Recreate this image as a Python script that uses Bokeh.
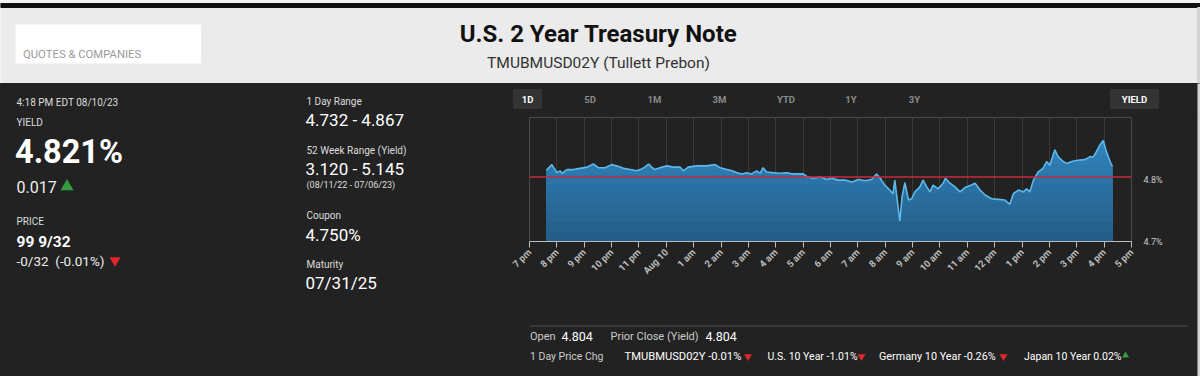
import numpy as np
from bokeh.plotting import figure
from bokeh.layouts import row, column
from bokeh.models import Range1d, FixedTicker, Span, PrintfTickFormatter
from bokeh.core.properties import value
from bokeh.embed import file_html
from bokeh.resources import INLINE

# ---------------- data ----------------
times = ["19:37", "19:49", "20:00", "20:07", "20:11", "20:22", "20:36", "20:51", "21:06", "21:20",
         "21:31", "21:46", "22:00", "22:11", "22:26", "22:41", "22:55", "23:03", "23:13", "23:21",
         "23:28", "23:35", "23:46", "00:01", "00:15", "00:30", "00:37", "00:48", "01:07", "01:29",
         "01:47", "01:58", "02:13", "02:24", "02:35", "02:46", "02:56", "03:07", "03:18", "03:26",
         "03:32", "03:40", "03:55", "04:09", "04:24", "04:38", "05:00", "05:08", "05:22", "05:37",
         "05:52", "06:03", "06:17", "06:32", "06:47", "07:01", "07:16", "07:30", "07:41", "07:49",
         "07:59", "08:10", "08:17", "08:21", "08:25", "08:32", "08:37", "08:43", "08:51", "08:58",
         "09:05", "09:16", "09:23", "09:31", "09:38", "09:45", "09:56", "10:07", "10:12", "10:22",
         "10:33", "10:44", "10:55", "11:09", "11:17", "11:28", "11:39", "11:53", "12:08", "12:22",
         "12:33", "12:41", "12:52", "13:03", "13:10", "13:17", "13:25", "13:35", "13:46", "13:54",
         "14:01", "14:12", "14:19", "14:30", "14:38", "14:49", "15:03", "15:18", "15:29", "15:36",
         "15:43", "15:51", "15:58", "16:05", "16:13", "16:18"]
yields = [4.815, 4.824, 4.811, 4.814, 4.810, 4.816, 4.816, 4.818, 4.820, 4.825,
          4.819, 4.819, 4.824, 4.822, 4.818, 4.816, 4.814, 4.816, 4.820, 4.825,
          4.820, 4.816, 4.819, 4.822, 4.820, 4.820, 4.814, 4.820, 4.822, 4.822,
          4.824, 4.819, 4.816, 4.814, 4.811, 4.809, 4.811, 4.809, 4.814, 4.810,
          4.819, 4.812, 4.811, 4.810, 4.811, 4.809, 4.809, 4.805, 4.802, 4.804,
          4.800, 4.802, 4.799, 4.799, 4.796, 4.800, 4.798, 4.800, 4.809, 4.802,
          4.791, 4.783, 4.777, 4.799, 4.775, 4.733, 4.772, 4.795, 4.767, 4.769,
          4.780, 4.788, 4.799, 4.788, 4.780, 4.791, 4.785, 4.794, 4.802, 4.794,
          4.788, 4.780, 4.787, 4.791, 4.794, 4.783, 4.775, 4.769, 4.768, 4.767,
          4.760, 4.777, 4.783, 4.780, 4.785, 4.780, 4.799, 4.812, 4.818, 4.829,
          4.823, 4.848, 4.837, 4.829, 4.826, 4.829, 4.831, 4.832, 4.837, 4.836,
          4.845, 4.856, 4.863, 4.845, 4.829, 4.821]
prior_close = 4.804
tick_labels = ["7 pm", "8 pm", "9 pm", "10 pm", "11 pm", "Aug 10", "1 am", "2 am", "3 am", "4 am",
               "5 am", "6 am", "7 am", "8 am", "9 am", "10 am", "11 am", "12 pm", "1 pm", "2 pm",
               "3 pm", "4 pm", "5 pm"]
y_ticks = [4.7, 4.8]
y_top = 4.9
buttons = ["1D", "5D", "1M", "3M", "YTD", "1Y", "3Y"]


def hours_since_7pm(t):
    h, m = map(int, t.split(":"))
    base = h - 19 if h >= 19 else h + 5
    return base + m / 60.0


xs = np.array([hours_since_7pm(t) for t in times])
ys = np.array(yields)
n_hours = len(tick_labels) - 1
hour_ticks = list(range(len(tick_labels)))

BG = "#222222"
FONT = "Roboto"


def pix_fig(w, h, x0, x1, ytop, ybot, bg):
    return figure(width=w, height=h, x_range=Range1d(x0, x1), y_range=Range1d(ybot, ytop),
                  x_axis_type=None, y_axis_type=None, toolbar_location=None,
                  output_backend="svg", min_border=0, outline_line_color=None,
                  background_fill_color=bg, border_fill_color=bg)


def txt(p, x, y, s, size, color, bold=False, align="left", font=FONT):
    p.text(x=[x], y=[y], text=[s], text_font=value(font), text_font_size=value(f"{size}px"),
           text_color=color, text_font_style="bold" if bold else "normal",
           text_align=align, text_baseline="middle")


def tri(p, x, y, up, size=10):
    p.scatter(x=[x], y=[y], marker="triangle" if up else "inverted_triangle", size=size,
              fill_color="#2e9e41" if up else "#e0262b", line_color=None)


# ---------------- header ----------------
hdr = pix_fig(1200, 83, 0, 1200, 0, 83, "#ebebeb")
hdr.quad(left=[0], right=[1200], top=[0], bottom=[3], color="#f4f4f4")
hdr.quad(left=[0], right=[1200], top=[3], bottom=[7], color="#111111")
hdr.quad(left=[1197], right=[1200], top=[7], bottom=[83], color="#d4d4d4")
hdr.quad(left=[15.5], right=[200], top=[24.5], bottom=[62.5], color="#ffffff")
txt(hdr, 22.5, 53.5, "QUOTES & COMPANIES", 11.3, "#9a9a9a")
txt(hdr, 598, 33, "U.S. 2 Year Treasury Note", 24, "#111111", bold=True, align="center")
txt(hdr, 598, 62, "TMUBMUSD02Y (Tullett Prebon)", 15.5, "#333333", align="center")

# ---------------- left panel ----------------
lf = pix_fig(505, 293, 0, 505, 83, 376, BG)
txt(lf, 16, 101.5, "4:18 PM EDT 08/10/23", 10, "#dddddd")
txt(lf, 16, 122, "YIELD", 10, "#dddddd")
txt(lf, 14.5, 151, "4.821%", 32.5, "#ffffff", bold=True)
txt(lf, 16, 186, "0.017", 16, "#eeeeee")
tri(lf, 66.5, 186, True, 13)
txt(lf, 16, 221, "PRICE", 10, "#dddddd")
txt(lf, 16, 241, "99 9/32", 15.5, "#ffffff", bold=True)
txt(lf, 16, 260, "-0/32\u00a0 (-0.01%)", 13.5, "#eeeeee")
tri(lf, 114.5, 260, False, 11)

txt(lf, 306, 101, "1 Day Range", 10, "#dddddd")
txt(lf, 305, 119, "4.732 - 4.867", 17, "#ffffff")
txt(lf, 306, 150, "52 Week Range (Yield)", 10, "#dddddd")
txt(lf, 305, 168, "3.120 - 5.145", 17, "#ffffff")
txt(lf, 306, 184, "(08/11/22 - 07/06/23)", 9, "#dddddd")
txt(lf, 306, 215, "Coupon", 10, "#dddddd")
txt(lf, 305, 234, "4.750%", 17, "#ffffff")
txt(lf, 306, 263.5, "Maturity", 10, "#dddddd")
txt(lf, 305, 282, "07/31/25", 17, "#ffffff")

# ---------------- buttons (page x 505..1197, y 83..117) ----------------
bf = pix_fig(692, 34, 505, 1197, 83, 117, BG)
bf.quad(left=[513], right=[541], top=[89], bottom=[108], color="#333333")
bf.quad(left=[1110], right=[1158], top=[89], bottom=[108], color="#333333")
btn_x = [527, 589.5, 654, 719, 785.5, 850.5, 914]
for i, (bx, lab) in enumerate(zip(btn_x, buttons)):
    txt(bf, bx, 98.5, lab, 9.5, "#ffffff" if i == 0 else "#8a8a8a", bold=True, align="center")
txt(bf, 1134, 98.5, "YIELD", 9.5, "#ffffff", bold=True, align="center")

# ---------------- chart (page x 505..1197, frame 529..1131 x 117..241) ----------------
cf = figure(width=692, height=182, x_range=Range1d(0, n_hours), y_range=Range1d(y_ticks[0], y_top),
            toolbar_location=None, output_backend="svg", y_axis_location="right",
            min_border_left=24, min_border_right=66, min_border_top=0, min_border_bottom=58,
            background_fill_color=BG, border_fill_color=BG, outline_line_color="#4a4a4a")

# gradient-like fill: bands from light (top) to dark (bottom)
levels = np.linspace(4.87, 4.70, 12)
c_top = np.array([50, 132, 190])
c_bot = np.array([35, 90, 130])
cf.varea(x=xs, y1=y_ticks[0], y2=ys, fill_color="#%02x%02x%02x" % tuple(c_top))
for k, lv in enumerate(levels[1:]):
    t = (k + 1) / (len(levels) - 1)
    c = (c_top * (1 - t) + c_bot * t).astype(int)
    cf.varea(x=xs, y1=y_ticks[0], y2=np.minimum(ys, lv), fill_color="#%02x%02x%02x" % tuple(c))
cf.line(x=xs, y=ys, line_color="#5cb9ee", line_width=1.6)
cf.add_layout(Span(location=prior_close, dimension="width", line_color="#c8283c", line_width=1.5))

cf.xaxis.ticker = FixedTicker(ticks=hour_ticks)
cf.xaxis.major_label_overrides = {i: lab for i, lab in enumerate(tick_labels)}
cf.xaxis.major_label_orientation = np.pi / 4
cf.xaxis.axis_line_color = "#bdbdbd"
cf.xaxis.major_tick_line_color = "#bdbdbd"
cf.xaxis.major_tick_out = 6
cf.xaxis.major_tick_in = 0
cf.xaxis.minor_tick_line_color = None
cf.xaxis.major_label_text_color = "#bbbbbb"
cf.xaxis.major_label_text_font = FONT
cf.xaxis.major_label_text_font_size = "9.5px"
cf.xaxis.major_label_text_font_style = "bold"
cf.xaxis.major_label_standoff = 3

cf.yaxis.ticker = FixedTicker(ticks=y_ticks)
cf.yaxis.formatter = PrintfTickFormatter(format="%.1f%%")
cf.yaxis.axis_line_color = None
cf.yaxis.major_tick_line_color = None
cf.yaxis.minor_tick_line_color = None
cf.yaxis.major_label_text_color = "#cccccc"
cf.yaxis.major_label_text_font = FONT
cf.yaxis.major_label_text_font_size = "9px"
cf.yaxis.major_label_standoff = 6

cf.xgrid.grid_line_color = "#3a3a3a"
cf.ygrid.grid_line_color = None

# ---------------- footer (page x 505..1197, y 299..376) ----------------
ff = pix_fig(692, 77, 505, 1197, 299, 376, BG)
ff.segment(x0=[529], y0=[325.5], x1=[1188], y1=[325.5], line_color="#4a4a4a", line_width=1)
txt(ff, 529.5, 336, "Open", 11, "#cccccc")
txt(ff, 561, 336, "4.804", 12.5, "#ffffff")
txt(ff, 610, 336, "Prior Close (Yield)", 11, "#cccccc")
txt(ff, 705, 336, "4.804", 12.5, "#ffffff")
txt(ff, 529.5, 356, "1 Day Price Chg", 10.5, "#cccccc")
txt(ff, 624, 356, "TMUBMUSD02Y -0.01%", 11.2, "#ffffff")
tri(ff, 747.5, 356, False, 8)
txt(ff, 767, 356, "U.S. 10 Year -1.01%", 10.5, "#ffffff")
tri(ff, 861, 356, False, 8)
txt(ff, 878.5, 356, "Germany 10 Year -0.26%", 10.8, "#ffffff")
tri(ff, 1003, 356, False, 8)
txt(ff, 1023.5, 356, "Japan 10 Year 0.02%", 10.5, "#ffffff")
tri(ff, 1125, 355, True, 7)

# ---------------- right edge strip ----------------
sf = pix_fig(3, 293, 0, 3, 83, 376, "#d4d4d4")

bg_style = {"background-color": BG}
right_col = column(bf, row(cf, styles=bg_style), ff, styles=bg_style)
layout = column(hdr, row(lf, right_col, sf, styles=bg_style))
open("out.html", "w").write(file_html(layout, INLINE))
